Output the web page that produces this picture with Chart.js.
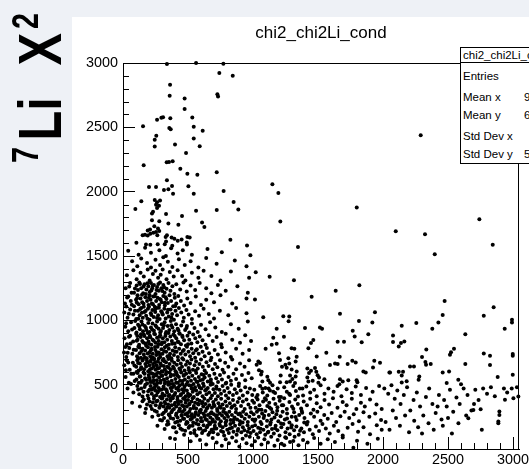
<!DOCTYPE html>
<html>
<head>
<meta charset="utf-8">
<script src="https://cdn.jsdelivr.net/npm/chart.js@4.4.1/dist/chart.umd.min.js"></script>
<style>
  html, body { margin: 0; padding: 0; width: 529px; height: 469px; overflow: hidden; background: #eef1f6; }
  #pad { position: absolute; left: 72px; top: 17px; width: 457px; height: 452px; background: #fff; }
  #c { position: absolute; left: 0; top: 0; }
  .rot { position: absolute; left: 0; top: 0; transform-origin: 0 0; white-space: nowrap;
         font-family: 'Liberation Sans', Arial, sans-serif; font-weight: bold; line-height: 1; color: #000; }
  #title { position: absolute; top: 23px; left: 123px; width: 396px; text-align: center; line-height: 17px;
           font: 17px 'Liberation Sans', Arial, sans-serif; color: #000; }
  #stats { position: absolute; left: 460px; top: 47px; width: 140px; height: 115px; border: 1px solid #000;
           background: #fff; font: 11.5px 'Liberation Sans', Arial, sans-serif; color: #000; overflow: hidden; }
  #stats span { position: absolute; line-height: 12px; white-space: nowrap; }
  #stats .sep { position: absolute; left: 0; top: 14px; width: 100%; height: 1px; background: #000; }
</style>
</head>
<body>
<div id="pad"></div>
<canvas id="c" width="529" height="469"></canvas>
<div id="title">chi2_chi2Li_cond</div>
<div id="stats"></div>
<div class="rot" style="font-size:36px; transform: translate(7.5px,163px) rotate(-90deg) scaleX(0.8);">7</div>
<div class="rot" style="font-size:61px; transform: translate(10.4px,140.6px) rotate(-90deg) scaleX(0.8);">Li</div>
<div class="rot" style="font-size:61px; transform: translate(10.4px,65.5px) rotate(-90deg) scaleX(0.8);">X</div>
<div class="rot" style="font-size:36px; transform: translate(7.5px,29px) rotate(-90deg) scaleX(0.8);">2</div>
<script>
// Tick values of the two axes
const xTickValues = [0, 500, 1000, 1500, 2000, 2500, 3000];
const yTickValues = [0, 500, 1000, 1500, 2000, 2500, 3000];

// Statistics box rows (label, value as printed)
const statLabels = ['Entries', 'Mean x', 'Mean y', 'Std Dev x', 'Std Dev y'];
const statValues = ['', '9', '6', '', '5'];

// Entries as flat x,y pairs, grouped by area of the plane
const upperSpray = [
  338,2992, 562,3000, 772,2995, 741,2922, 844,2901, 362,2831, 359,2745, 474,2725, 726,2758, 731,2740,
  474,2642, 533,2577, 295,2574, 308,2579, 262,2558, 364,2571, 154,2509, 356,2494, 367,2486, 544,2504,
  613,2473, 256,2434, 244,2403, 544,2413, 244,2351, 400,2366, 590,2353, 485,2301, 159,2205, 336,2229,
  354,2231, 382,2236, 441,2179, 495,2140, 572,2132, 721,2151, 338,2088, 200,2036, 254,2036, 315,2013,
  349,2018, 377,2044, 385,1984, 503,2042, 544,1984, 774,2005, 141,1925, 95,1865, 244,1935, 262,1917,
  285,1932, 254,1899, 277,1891, 262,1873, 223,1831, 231,1844, 331,1826, 562,1852, 721,1857, 851,1919,
  887,1862, 454,1810, 223,1777, 279,1771, 349,1753, 426,1743, 241,1732, 269,1714, 608,1761, 626,1725,
  190,1699, 208,1706, 254,1686, 279,1694, 151,1662, 169,1665, 190,1660, 210,1673, 233,1681, 264,1662,
  338,1662, 328,1647, 374,1644, 395,1634, 421,1618, 451,1629, 495,1647, 513,1644, 490,1605, 492,1590,
  826,1626, 954,1582, 103,1603, 177,1590, 210,1587, 267,1592, 321,1592, 331,1613, 379,1579
];

const rightSpray = [
  1149,2057, 1195,1990, 1798,1876, 1210,1769, 2290,2439, 2741,1785,
  2098,1693, 2323,1670, 2844,1587, 2398,1514, 2474,1151, 2851,1101, 2459,1042, 2775,1036, 2144,958, 2256,979,
  2426,984, 2992,1005, 2992,984, 2379,935, 2936,935, 2633,891, 2077,883, 2077,831, 2138,823, 2164,836,
  2121,797, 2333,774, 2546,779, 2523,751, 2515,733, 2775,743, 2823,725, 2998,738, 2998,725, 2300,715,
  2326,676, 2331,655, 2367,660, 2633,660, 2823,652, 2208,641, 2238,641, 2054,595, 2121,600, 2154,600,
  2144,571, 2459,595, 2508,602, 2279,563, 2274,538, 2144,517, 2182,527, 2579,538, 2490,512, 2600,504,
  2882,559, 2998,577
];

const midBand = [
  1346,1569, 1021,1374, 1128,1338, 1315,1312, 1015,1161, 1818,1273, 1636,1229, 1451,1184, 1669,1052, 1938,1062,
  1079,1023, 1233,1031, 1279,1029, 1274,992, 1815,995, 1918,984, 1182,935, 1400,940, 1515,945, 1531,935,
  1767,919, 1782,875, 1887,891, 1238,873, 1156,865, 1464,847, 1446,823, 1651,834, 1700,834, 1836,829,
  1097,779, 1144,810, 1182,818, 1297,784, 1318,779, 1426,784, 1200,745, 1564,748, 1336,717, 1272,706,
  1490,719, 1667,717, 1041,681, 1054,668, 1028,655, 1208,691, 1328,681, 1279,665, 1764,686, 1790,673,
  1631,665, 1651,660, 1592,652, 1728,660, 1933,686, 1977,670, 1923,634, 1249,655, 1223,639, 1259,631,
  1297,618, 1336,603, 1418,626, 1446,608, 1477,629, 1487,600, 1431,590, 1418,556, 1046,613, 1067,600,
  1062,579, 1213,571, 1110,561, 1285,571, 1303,545, 1328,564, 1508,556, 1497,574, 1549,543, 1669,543,
  1690,525, 1733,535, 1797,535, 1803,519, 1849,603, 1867,595, 2049,595, 1072,525, 1118,535, 1131,514,
  1208,519, 1259,519, 1285,525, 1323,512, 1426,525, 1459,530, 1503,514, 1664,504
];

const coreHigh = [
  40,1540, 120,1510, 170,1565, 215,1525, 280,1545, 330,1500, 370,1560, 420,1520, 460,1545, 530,1510, 650,1555, 760,1530, 980,1505,
  70,1460, 110,1420, 140,1480, 185,1445, 215,1410, 250,1470, 285,1430, 310,1490, 345,1455, 380,1415, 430,1475, 475,1430,
  520,1460, 580,1410, 640,1485, 720,1440, 860,1465, 950,1420,
  30,1350, 80,1390, 105,1320, 135,1370, 160,1340, 190,1395, 205,1310, 230,1360, 250,1385, 270,1330, 290,1355, 305,1395,
  335,1320, 360,1375, 390,1340, 420,1390, 455,1345, 480,1310, 530,1370, 580,1330, 620,1385, 680,1345, 750,1310, 830,1380, 970,1330,
  20,1250, 55,1290, 85,1215, 105,1270, 115,1235, 125,1295, 140,1250, 155,1210, 165,1280, 180,1240, 195,1265, 205,1220,
  215,1290, 225,1250, 238,1275, 250,1205, 262,1260, 275,1230, 285,1295, 295,1250, 310,1275, 320,1215, 335,1245, 350,1290,
  365,1230, 380,1265, 395,1205, 410,1280, 440,1240, 465,1295, 490,1225, 520,1270, 555,1235, 590,1290, 640,1250, 680,1210,
  730,1275, 790,1230, 880,1265, 960,1215,
  15,1130, 40,1185, 60,1150, 85,1110, 100,1160, 112,1195, 120,1125, 135,1170, 148,1140, 160,1105, 172,1180, 185,1150,
  196,1120, 205,1195, 212,1160, 222,1130, 232,1185, 244,1105, 255,1150, 266,1175, 278,1120, 290,1160, 298,1140, 310,1190,
  322,1115, 334,1165, 345,1135, 358,1195, 370,1150, 386,1110, 398,1175, 410,1130, 425,1190, 445,1150, 470,1115, 495,1170,
  520,1135, 560,1185, 600,1120, 640,1160, 700,1140, 750,1195, 840,1130, 950,1170,
  10,1060, 35,1020, 55,1085, 80,1045, 102,1010, 115,1075, 128,1040, 140,1095, 152,1020, 165,1065, 178,1035, 192,1090,
  204,1005, 214,1055, 226,1080, 236,1025, 248,1065, 258,1095, 270,1040, 282,1010, 294,1070, 306,1045, 318,1090, 328,1015,
  340,1060, 352,1030, 366,1085, 378,1050, 392,1005, 404,1075, 416,1040, 430,1095, 448,1060, 468,1020, 488,1080, 505,1045,
  530,1010, 555,1070, 585,1035, 620,1090, 660,1050, 700,1015, 745,1075, 810,1040, 870,1095, 950,1055
];

const coreMid = [
  18,950, 40,915, 62,985, 88,940, 104,905, 116,965, 130,930, 142,990, 154,915, 168,955, 180,925, 194,980, 203,910,
  215,945, 227,975, 238,920, 250,960, 262,990, 274,935, 286,905, 298,970, 308,940, 320,985, 332,910, 344,955, 356,925,
  368,995, 380,945, 394,915, 408,970, 420,935, 435,900, 448,960, 462,990, 478,925, 492,955, 510,905, 530,975, 550,940,
  575,910, 600,965, 635,930, 670,985, 710,945, 760,910, 830,970, 890,935, 960,990,
  12,860, 30,815, 55,880, 78,835, 102,895, 112,850, 124,810, 136,870, 148,840, 160,890, 172,820, 185,860, 196,835,
  206,880, 218,810, 228,850, 240,895, 250,825, 262,865, 274,840, 286,885, 296,815, 306,860, 318,830, 328,895, 340,850,
  352,810, 364,875, 376,840, 388,890, 398,820, 410,860, 422,835, 434,895, 446,815, 458,870, 470,845, 484,805, 496,880,
  510,850, 526,820, 540,890, 556,860, 572,830, 590,875, 612,845, 635,810, 660,885, 690,840, 720,870, 755,815, 790,895,
  840,850, 900,825, 940,885, 985,840,
  8,750, 25,715, 48,785, 72,740, 100,770, 108,720, 118,795, 128,745, 138,710, 150,780, 160,735, 170,765, 182,705,
  192,790, 203,750, 210,720, 220,780, 229,740, 238,705, 248,770, 256,730, 266,795, 276,750, 286,715, 296,775, 304,740,
  312,700, 322,790, 332,755, 342,720, 352,780, 362,740, 372,705, 382,765, 392,730, 402,790, 412,755, 422,715, 432,780,
  444,740, 456,705, 468,770, 480,735, 492,795, 504,755, 516,720, 528,780, 540,745, 555,710, 568,775, 582,740, 598,795,
  612,755, 628,720, 645,785, 662,745, 680,710, 705,770, 730,735, 760,790, 790,750, 830,715, 870,780, 920,740, 970,770,
  10,650, 28,690, 52,615, 76,670, 102,640, 110,690, 120,610, 130,665, 140,635, 152,695, 162,620, 172,660, 184,685,
  194,605, 204,650, 212,680, 222,625, 231,660, 240,695, 250,615, 259,650, 268,680, 278,630, 288,665, 298,605, 306,690,
  314,645, 322,620, 331,675, 340,640, 349,700, 358,660, 367,615, 376,685, 385,640, 394,670, 404,605, 414,655, 424,690,
  434,625, 444,665, 454,640, 464,695, 474,610, 484,655, 494,680, 505,630, 515,665, 526,695, 538,615, 550,650, 562,680,
  575,625, 588,660, 600,695, 614,640, 628,610, 642,675, 658,645, 674,690, 690,620, 708,660, 726,635, 746,690, 766,615,
  786,670, 810,640, 840,695, 870,620, 900,665, 935,640, 970,690,
  20,560, 45,515, 80,585, 103,540, 112,590, 122,515, 133,565, 145,530, 158,595, 170,550, 185,510, 198,575, 206,540,
  215,590, 224,520, 233,560, 242,505, 251,580, 260,535, 269,595, 278,555, 288,515, 298,570, 306,600, 314,540, 322,510,
  330,580, 339,550, 348,520, 357,595, 366,565, 375,530, 384,505, 393,575, 403,545, 412,590, 421,515, 430,560, 439,530,
  448,595, 457,505, 466,570, 476,540, 486,585, 496,520, 505,555, 514,595, 523,530, 533,570, 543,505, 553,545, 563,590,
  573,520, 583,560, 594,535, 605,580, 616,510, 628,555, 640,590, 652,525, 664,570, 676,540, 690,505, 703,585, 717,550,
  731,520, 746,575, 761,540, 777,595, 794,515, 812,560, 830,530, 850,585, 870,545, 892,510, 915,575, 940,535, 965,590, 990,550,
  35,470, 80,440, 110,490, 125,425, 140,470, 158,445, 172,500, 190,415, 204,460, 212,490, 221,430, 230,470, 239,410,
  248,455, 257,495, 266,440, 275,475, 285,405, 295,460, 304,430, 312,485, 321,415, 330,465, 339,440, 348,500, 357,420,
  366,475, 375,450, 384,410, 393,490, 402,435, 410,470, 419,405, 428,455, 437,495, 446,425, 455,465, 464,440, 473,485,
  482,410, 491,455, 500,430, 509,495, 518,420, 527,470, 536,445, 545,405, 554,480, 563,455, 572,425, 582,495, 592,440,
  602,470, 612,410, 622,490, 632,455, 642,425, 652,475, 663,440, 674,500, 685,415, 696,465, 707,435, 718,485, 730,410,
  742,460, 754,430, 766,490, 779,450, 792,415, 805,475, 818,440, 832,500, 846,420, 860,465, 875,435, 890,490, 905,455,
  922,415, 940,480, 958,440, 976,470, 994,420
];

const coreLow = [
  70,360, 130,330, 160,385, 185,345, 205,370, 222,310, 238,390, 252,340, 266,375, 280,320, 292,355, 302,395, 311,330,
  320,365, 329,305, 338,385, 347,345, 356,320, 365,375, 374,340, 383,395, 392,310, 401,360, 410,330, 419,385, 428,350,
  437,315, 446,370, 455,340, 464,395, 473,305, 482,360, 491,330, 500,380, 509,345, 518,310, 527,370, 536,395, 545,335,
  554,360, 563,315, 572,385, 581,345, 590,375, 599,305, 608,355, 617,330, 626,390, 635,350, 644,315, 654,375, 664,340,
  674,395, 684,320, 694,365, 704,335, 714,385, 724,310, 734,355, 744,330, 755,390, 766,345, 777,310, 788,370, 799,335,
  810,395, 822,355, 834,320, 846,380, 858,340, 870,310, 882,365, 894,395, 908,335, 922,370, 936,310, 950,385, 965,345,
  980,320, 995,375,
  170,280, 225,250, 260,290, 285,225, 302,270, 316,240, 330,295, 344,215, 358,260, 372,285, 386,235, 402,205, 411,275,
  420,245, 430,295, 440,220, 450,265, 460,290, 470,235, 480,270, 490,210, 500,255, 510,290, 520,230, 530,270, 540,205,
  550,250, 560,285, 570,225, 580,265, 590,295, 600,240, 609,215, 618,275, 627,250, 636,295, 645,225, 654,265, 663,205,
  672,245, 681,285, 690,230, 699,270, 708,210, 717,255, 726,295, 735,235, 744,275, 753,215, 762,260, 771,290, 780,240,
  789,205, 798,270, 808,250, 818,290, 828,225, 838,265, 848,205, 858,245, 868,285, 878,230, 888,270, 900,215, 912,255,
  924,290, 936,235, 948,270, 960,210, 972,250, 985,285, 997,230,
  265,180, 320,155, 350,195, 385,170, 410,130, 430,185, 455,150, 470,110, 485,195, 505,165, 520,125, 535,180, 550,145,
  565,105, 580,190, 595,160, 608,125, 620,185, 632,145, 645,170, 657,110, 670,195, 682,150, 694,130, 706,180, 718,160,
  730,115, 742,195, 754,140, 766,170, 778,105, 790,185, 802,150, 814,125, 826,195, 838,165, 850,135, 862,180, 874,110,
  886,155, 898,190, 910,130, 922,170, 934,145, 946,105, 958,185, 970,160, 982,125, 994,175,
  362,86, 400,78, 520,60, 592,70, 640,35, 690,85, 720,50, 760,25, 790,75, 815,45, 840,90, 870,60, 895,20, 920,80,
  950,45, 975,95, 990,30
];

// second layer of the dense core, filling between the rows above
const coreFill = [
  32,1178, 48,1262, 66,1215, 92,1248, 108,1172, 131,1282, 146,1198, 158,1262, 176,1205, 188,1288, 199,1176, 218,1232,
  229,1268, 243,1188, 258,1236, 272,1282, 283,1166, 302,1228, 316,1258, 328,1180,
  25,1108, 45,1052, 68,1122, 92,1075, 106,1138, 118,1012, 132,1088, 145,1058, 158,1128, 174,1072, 188,1012, 200,1105,
  218,1042, 230,1125, 246,1082, 262,1018, 276,1098, 300,1058, 322,1136, 346,1082, 372,1022, 402,1112,
  24,978, 46,872, 70,928, 94,995, 110,878, 126,952, 138,892, 150,968, 164,878, 176,942, 190,902, 210,868, 224,928,
  246,892, 258,948, 280,872, 292,918, 314,962, 326,878, 350,902, 372,962, 398,878, 426,922, 456,880, 488,940,
  18,792, 36,748, 58,820, 82,772, 106,842, 116,702, 126,788, 142,762, 156,828, 168,712, 178,802, 190,742, 200,818,
  214,768, 226,712, 236,842, 246,792, 260,752, 272,815, 284,732, 300,828, 316,762, 336,802, 356,722, 378,818, 400,758,
  428,830, 460,762, 500,815, 560,765,
  22,612, 40,672, 64,585, 88,648, 104,598, 116,668, 128,562, 138,622, 150,688, 166,585, 178,642, 190,672, 200,558,
  208,620, 218,698, 228,585, 236,640, 246,672, 256,572, 264,625, 274,702, 284,590, 294,648, 302,570, 318,682, 334,598,
  352,632, 370,578, 392,625, 418,572, 440,615, 470,575, 508,612, 560,608, 620,575,
  62,505, 90,528, 116,462, 136,515, 150,408, 166,482, 178,538, 194,448, 210,520, 220,460, 236,532, 244,478, 256,418,
  264,512, 276,452, 290,530, 300,412, 310,468, 324,522, 336,455, 350,412, 362,505, 378,478, 396,422, 408,515, 424,478,
  442,418, 458,528, 470,462, 488,502, 506,410, 524,492, 546,462, 566,525, 590,478, 614,540, 640,462, 676,520, 720,468, 790,510,
  150,372, 176,312, 196,392, 212,335, 230,362, 244,298, 258,372, 272,262, 286,338, 298,392, 314,282, 326,352, 340,322,
  352,268, 368,392, 380,302, 396,345, 408,262, 424,372, 438,295, 452,258, 466,332, 478,382, 494,278, 512,352, 526,258,
  542,318, 558,272, 576,352, 594,285, 612,365, 628,262, 650,320, 672,275, 698,345, 722,262, 752,320, 790,280, 840,330, 900,275,
  300,222, 338,188, 366,240, 396,168, 418,212, 442,160, 462,235, 478,142, 496,205, 514,178, 530,238, 548,125, 562,198,
  584,158, 600,215, 616,140, 636,232, 652,182, 668,128, 686,212, 702,158, 724,238, 746,180, 770,132, 796,220, 822,160,
  852,228, 882,142, 920,205, 960,135,
  1012,218, 1026,402, 1044,305, 1058,158, 1072,468, 1086,258, 1100,382, 1114,128, 1128,322, 1142,230, 1156,445, 1170,162,
  1186,298, 1200,405, 1216,198, 1232,340, 1248,92, 1262,238, 1278,430, 1294,168, 1310,312, 1328,248, 1346,408, 1362,142,
  1378,282, 1394,205, 1310,62, 1240,30, 1120,470, 1380,470
];

const lowTail = [
  1010,460, 1035,420, 1055,490, 1075,440, 1095,475, 1110,415, 1130,455, 1150,495, 1170,435, 1190,470, 1215,405, 1240,480,
  1260,445, 1285,420, 1310,490, 1330,450, 1360,470, 1385,415, 1410,485, 1440,440, 1470,460, 1490,410, 1520,495, 1550,430,
  1580,470, 1620,445, 1650,490, 1680,410, 1720,465, 1760,435, 1790,485, 1830,420, 1870,475, 1920,445, 1970,490,
  1008,360, 1020,320, 1035,385, 1050,340, 1065,305, 1078,370, 1092,395, 1110,335, 1125,360, 1140,310, 1158,390, 1172,350,
  1188,325, 1205,375, 1222,340, 1240,395, 1260,310, 1280,365, 1300,330, 1325,385, 1345,350, 1370,315, 1390,370, 1415,340,
  1440,390, 1465,305, 1490,355, 1520,325, 1550,380, 1585,345, 1615,395, 1650,320, 1690,365, 1720,340, 1760,390, 1795,310,
  1830,360, 1860,330, 1900,385, 1950,345, 1990,310,
  1005,270, 1018,230, 1030,290, 1045,250, 1058,210, 1070,275, 1082,240, 1095,295, 1108,220, 1122,265, 1136,205, 1150,285,
  1165,245, 1180,270, 1195,215, 1212,255, 1228,290, 1245,230, 1262,275, 1280,205, 1298,250, 1316,285, 1335,225, 1355,265,
  1375,295, 1396,240, 1420,210, 1445,275, 1470,250, 1495,290, 1520,220, 1548,265, 1575,235, 1605,280, 1640,210, 1672,255,
  1705,290, 1740,240, 1775,270, 1815,215, 1850,285, 1895,250, 1940,275, 1985,225,
  1004,140, 1016,185, 1028,115, 1040,165, 1054,130, 1066,195, 1080,150, 1094,110, 1106,175, 1118,135, 1132,190, 1146,155,
  1160,120, 1174,180, 1188,145, 1204,105, 1218,170, 1234,195, 1250,130, 1266,160, 1282,115, 1298,185, 1316,145, 1334,175,
  1352,110, 1372,160, 1392,130, 1414,190, 1436,150, 1460,115, 1484,175, 1508,140, 1534,195, 1560,160, 1590,120, 1622,180,
  1656,140, 1690,105, 1728,165, 1766,195, 1808,135, 1850,170, 1900,115, 1952,185, 1990,150,
  1015,60, 1040,90, 1065,35, 1088,75, 1115,50, 1140,95, 1165,25, 1190,70, 1220,40, 1255,85, 1285,55, 1320,95, 1350,30,
  1385,70, 1420,50, 1470,85, 1520,40, 1575,75, 1630,55, 1690,90, 1772,10, 1800,65, 1880,40, 1960,80
];

const lowTailFar = [
  2010,470, 2040,430, 2065,495, 2090,390, 2110,455, 2135,350, 2160,420, 2185,480, 2210,300, 2235,380, 2260,440, 2285,330,
  2310,260, 2330,405, 2355,470, 2380,350, 2405,280, 2430,420, 2450,230, 2470,380, 2490,330, 2515,460, 2540,290, 2565,400,
  2590,350, 2620,470, 2650,420, 2680,300, 2710,460, 2735,380, 2770,470, 2800,430, 2830,480, 2860,410, 2930,470, 2955,440,
  2990,470, 3030,480, 2020,210, 2050,150, 2075,300, 2100,240, 2130,180, 2170,260, 2200,130, 2240,220, 2270,170, 2300,120,
  2350,200, 2390,150, 2420,330, 2460,180, 2500,240, 2530,120, 2580,200, 2640,260, 2700,350, 2760,150, 3041,408, 2938,382,
  2887,213, 2887,200, 2895,291, 2895,265, 2656,239, 2695,304, 2751,309, 3003,395
];

function toPoints(flat) {
  const out = [];
  for (let i = 0; i + 1 < flat.length; i += 2) out.push({ x: flat[i], y: flat[i + 1] });
  return out;
}
const entries = [upperSpray, rightSpray, midBand, coreHigh, coreMid, coreLow, coreFill, lowTail, lowTailFar]
  .flatMap(toPoints);

// statistics box text
const stats = document.getElementById('stats');
const rowTops = [21.5, 42.5, 61, 81.5, 100];
stats.innerHTML = '<span style="left:2px;top:1px">chi2_chi2Li_cond</span><div class="sep"></div>' +
  statLabels.map((l, i) => '<span style="left:2px;top:' + rowTops[i] + 'px">' + l + '</span>' +
    '<span style="left:63px;top:' + rowTops[i] + 'px">' + statValues[i] + '</span>').join('');

// frame edges on top/right and the short minor ticks along both axes
const frameAndMinorTicks = {
  id: 'frameAndMinorTicks',
  afterDraw(chart) {
    const { ctx, chartArea: a, scales: { x, y } } = chart;
    ctx.save();
    ctx.strokeStyle = '#000';
    ctx.lineWidth = 1;
    ctx.beginPath();
    ctx.moveTo(a.left, Math.round(a.top) + 0.5); ctx.lineTo(a.right, Math.round(a.top) + 0.5);
    ctx.moveTo(Math.round(a.right) - 0.5, a.top); ctx.lineTo(Math.round(a.right) - 0.5, a.bottom);
    for (let v = 100; v <= x.max; v += 100) {
      if (v % 500 === 0) continue;
      const px = Math.round(x.getPixelForValue(v)) + 0.5;
      ctx.moveTo(px, a.bottom); ctx.lineTo(px, a.bottom - 6);
    }
    for (let v = 100; v <= y.max; v += 100) {
      if (v % 500 === 0) continue;
      const py = Math.round(y.getPixelForValue(v)) + 0.5;
      ctx.moveTo(a.left, py); ctx.lineTo(a.left + 6, py);
    }
    ctx.stroke();
    ctx.restore();
  }
};

const tickFont = { family: "'Liberation Sans', Arial, sans-serif", size: 14.4 };

new Chart(document.getElementById('c'), {
  type: 'scatter',
  data: {
    datasets: [{
      data: entries,
      pointRadius: 2,
      pointBackgroundColor: '#000',
      pointBorderWidth: 0,
      pointHoverRadius: 2,
      clip: false
    }]
  },
  options: {
    responsive: false,
    animation: false,
    devicePixelRatio: 1,
    events: [],
    layout: { padding: { left: 73, top: 63, right: 10, bottom: 0 } },
    plugins: { legend: { display: false }, tooltip: { enabled: false }, title: { display: false } },
    scales: {
      x: {
        type: 'linear', position: 'bottom', min: 0, max: 3046,
        afterBuildTicks: s => { s.ticks = xTickValues.map(v => ({ value: v })); },
        afterFit: s => { s.height = 20; s.paddingLeft = 0; s.paddingRight = 0; },
        grid: { drawOnChartArea: false, tickLength: -12, tickColor: '#000', color: '#000' },
        border: { color: '#000', width: 1 },
        ticks: { padding: 14, font: tickFont, color: '#000', maxRotation: 0, autoSkip: false,
                 callback: v => String(v) }
      },
      y: {
        type: 'linear', position: 'left', min: 0, max: 3000,
        afterBuildTicks: s => { s.ticks = yTickValues.map(v => ({ value: v })); },
        afterFit: s => { s.width = 50; s.paddingTop = 0; s.paddingBottom = 0; },
        grid: { drawOnChartArea: false, tickLength: -12, tickColor: '#000', color: '#000' },
        border: { color: '#000', width: 1 },
        ticks: { padding: 17, font: tickFont, color: '#000', autoSkip: false,
                 callback: v => String(v) }
      }
    }
  },
  plugins: [frameAndMinorTicks]
});
</script>
</body>
</html>
